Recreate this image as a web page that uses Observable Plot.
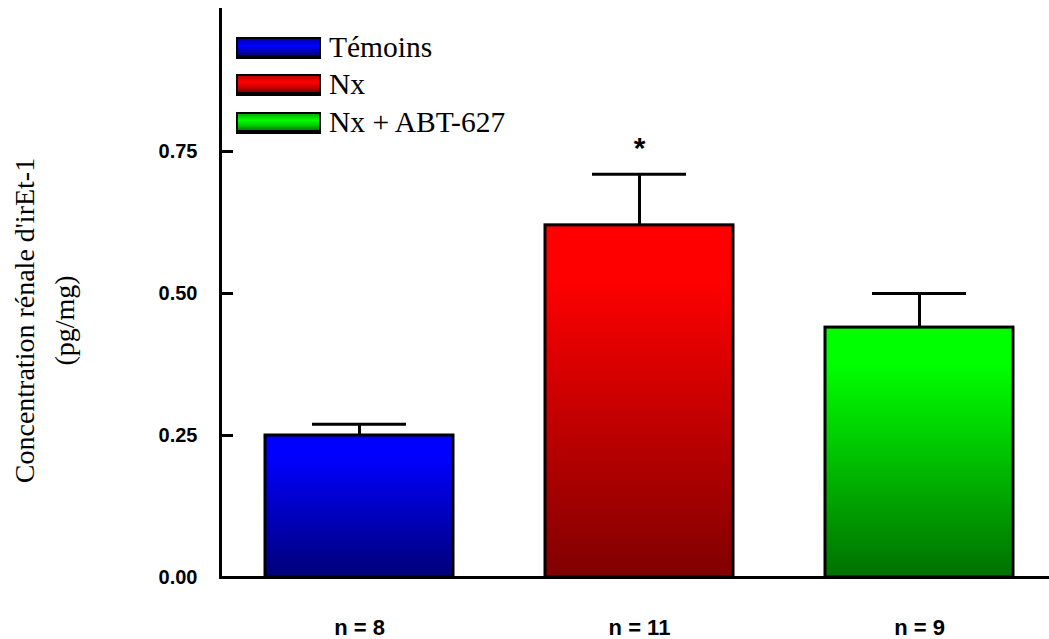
<!DOCTYPE html>
<html>
<head>
<meta charset="utf-8">
<script src="https://cdn.jsdelivr.net/npm/d3@7"></script>
<script src="https://cdn.jsdelivr.net/npm/@observablehq/plot@0.6"></script>
<style>
  html, body { margin: 0; padding: 0; background: white; }
  #wrap { position: relative; width: 1049px; height: 639px; }
  .leg { position: absolute; left: 236px; display: flex; align-items: center; }
  .sw { width: 81px; height: 16px; border: 2px solid black; border-bottom-width: 4px; }
  .lt { font-family: "Liberation Serif", "Times New Roman", serif; font-size: 29.5px; margin-left: 8px; color: black; line-height: 1; }
</style>
</head>
<body>
<div id="wrap"></div>
<script>
const categories = ["Témoins", "Nx", "Nx + ABT-627"];
const means = [0.25, 0.62, 0.44];
const errorTops = [0.27, 0.71, 0.50];
const nLabels = ["n = 8", "n = 11", "n = 9"];
const sigMarks = ["", "*", ""];
const yTicks = [0, 0.25, 0.5, 0.75];
const yLabel = "Concentration rénale d'irEt-1\n(pg/mg)";

const gradients = [
  {id: "gBlue", top: "#0000ff", bottom: "#000078"},
  {id: "gRed", top: "#ff0000", bottom: "#800000"},
  {id: "gGreen", top: "#00ff00", bottom: "#007000"}
];

const data = categories.map((c, i) => ({group: c, mean: means[i], err: errorTops[i], n: nLabels[i], sig: sigMarks[i]}));

const chart = Plot.plot({
  width: 1049,
  height: 639,
  marginLeft: 220,
  marginRight: 0,
  marginTop: 9,
  marginBottom: 62,
  style: {background: "white", color: "black", fontFamily: "Liberation Sans, Arial, sans-serif"},
  x: {domain: categories, paddingInner: 0.327, paddingOuter: 0.139, align: 0.56, axis: null},
  y: {domain: [0, 1], axis: null},
  color: {domain: categories, range: gradients.map(g => `url(#${g.id})`)},
  marks: [
    Plot.ruleX(data, {x: "group", y1: "mean", y2: "err", stroke: "black", strokeWidth: 3}),
    Plot.tickY(data, {x: "group", y: "err", stroke: "black", strokeWidth: 3, insetLeft: 47, insetRight: 47}),
    Plot.barY(data, {x: "group", y: "mean", fill: "group", stroke: "black", strokeWidth: 3}),
    Plot.text(data.filter(d => d.sig), {x: "group", y: "err", text: "sig", dy: -26, fontSize: 30, fontWeight: "bold"}),
    Plot.axisY({ticks: yTicks, tickSize: -13, strokeWidth: 3, text: null, label: null}),
    Plot.axisY({ticks: yTicks, tickSize: 0, tickPadding: 23, tickFormat: d3.format(".2f"), fontSize: 20, fontWeight: "bold", label: null}),
    Plot.axisX({tickSize: 0, tickPadding: 42, tickFormat: d => nLabels[categories.indexOf(d)], fontSize: 22, fontWeight: "bold", label: null}),
    Plot.frame({anchor: "left", stroke: "black", strokeWidth: 3}),
    Plot.ruleY([0], {stroke: "black", strokeWidth: 3}),
    Plot.text([yLabel], {frameAnchor: "left", text: d => d, textAnchor: "middle", rotate: -90, dx: -179, dy: 27, fontSize: 28, lineHeight: 1.4, fontFamily: "Liberation Serif, Times New Roman, serif"})
  ]
});

const defs = d3.select(chart).insert("defs", ":first-child");
gradients.forEach(g => {
  const lg = defs.append("linearGradient").attr("id", g.id).attr("x1", 0).attr("y1", 0).attr("x2", 0).attr("y2", 1);
  lg.append("stop").attr("offset", "0").attr("stop-color", g.top);
  lg.append("stop").attr("offset", "0.15").attr("stop-color", g.top);
  lg.append("stop").attr("offset", "1").attr("stop-color", g.bottom);
});

const wrap = document.getElementById("wrap");
wrap.appendChild(chart);

const legendTops = [33, 70, 108];
const legendCss = [
  "linear-gradient(to bottom, #0000b0, #0000ff 40%, #0000c0 75%, #000080)",
  "linear-gradient(to bottom, #c00000, #ff0000 40%, #c00000 75%, #800000)",
  "linear-gradient(to bottom, #00b000, #00ff00 40%, #00c000 75%, #008000)"
];
categories.forEach((c, i) => {
  const row = document.createElement("div");
  row.className = "leg";
  row.style.top = legendTops[i] + "px";
  const sw = document.createElement("div");
  sw.className = "sw";
  sw.style.background = legendCss[i];
  const t = document.createElement("span");
  t.className = "lt";
  t.textContent = c;
  row.appendChild(sw);
  row.appendChild(t);
  wrap.appendChild(row);
});
</script>
</body>
</html>
